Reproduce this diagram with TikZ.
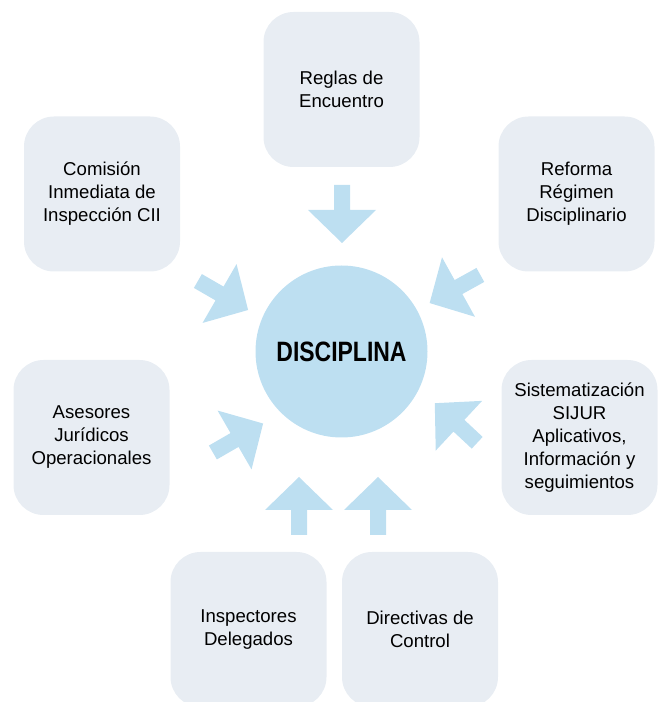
\documentclass[tikz,border=0pt]{standalone}
\usepackage{fontspec}
\setmainfont{Liberation Sans}
\newfontfamily\titlefont[FakeStretch=0.82]{Liberation Sans}
\definecolor{boxgray}{HTML}{E8EDF3}
\definecolor{softblue}{HTML}{BDDFF1}
\tikzset{
  itembox/.style={rectangle, rounded corners=30pt, fill=boxgray, minimum width=156pt,
    minimum height=155pt, align=center, font=\fontsize{18.6}{23}\selectfont},
  centre/.style={circle, fill=softblue, minimum size=172pt, font=\titlefont\bfseries\fontsize{28}{30}\selectfont},
  pics/inarrow/.style={code={
    \fill[softblue] (-29,-8) -- (-4,-8) -- (-4,-34) -- (29,0) -- (-4,34) -- (-4,8) -- (-29,8) -- cycle;}}
}
\begin{document}
\begin{tikzpicture}[x=1pt,y=1pt]
\useasboundingbox (0,0) rectangle (661,702);
\clip (0,0) rectangle (661,702);

\node[centre] (disc) at (341.5,350.5) {DISCIPLINA};

\node[itembox] (reglas) at (341.5,612.5) {Reglas de\\Encuentro};
\node[itembox] (comision) at (102,508) {Comisión\\Inmediata de\\Inspección CII};
\node[itembox] (reforma) at (576.5,508) {Reforma\\Régimen\\Disciplinario};
\node[itembox] (asesores) at (91.5,264.5) {Asesores\\Jurídicos\\Operacionales};
\node[itembox] (sijur) at (579.5,264.5) {Sistematización\\SIJUR\\Aplicativos,\\Información y\\seguimientos};
\node[itembox] (inspect) at (248.5,72.5) {Inspectores\\Delegados};
\node[itembox] (directivas) at (420,72.5) {Directivas de\\Control};

% arrows pointing to the centre
\pic[rotate=-90] at (342,488) {inarrow};
\pic[rotate=-30] at (223,406.5) {inarrow};
\pic[rotate=-151] at (455,413) {inarrow};
\pic[rotate=30] at (238,264) {inarrow};
\pic[rotate=137] at (456,279) {inarrow};
\pic[rotate=90] at (299,196) {inarrow};
\pic[rotate=90] at (378,196) {inarrow};
\end{tikzpicture}
\end{document}
